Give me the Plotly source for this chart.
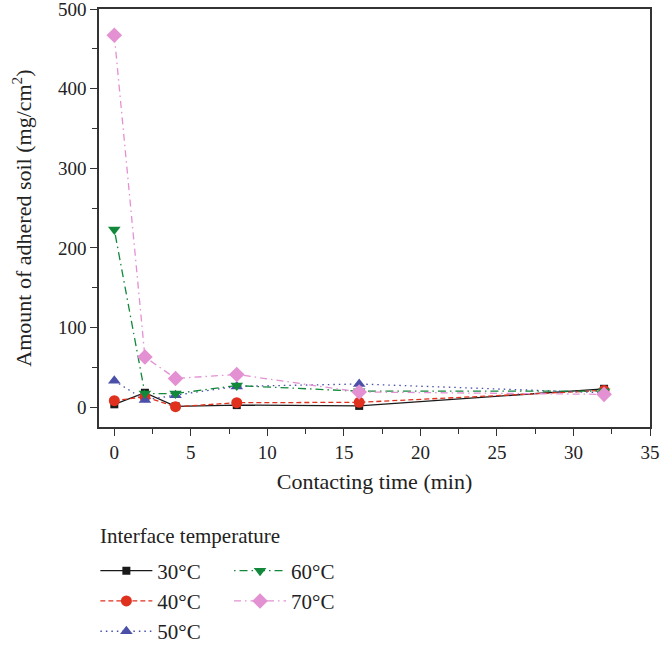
import plotly.graph_objects as go

time_min = [0, 2, 4, 8, 16, 32]
series_names = ["30°C", "40°C", "50°C", "60°C", "70°C"]
soil_30 = [3.5, 18, 1, 2.5, 1.5, 23]
soil_40 = [8, 13, 0.5, 5.5, 6, 21]
soil_50 = [33, 9, 15, 26, 29, 18]
soil_60 = [223, 17, 17, 27, 20, 20]
soil_70 = [467, 63, 36, 41, 19, 16]
legend_title = "Interface temperature"

values = [soil_30, soil_40, soil_50, soil_60, soil_70]
colors = ["#1a1a1a", "#e0301e", "#4a4fa8", "#11883a", "#e391d2"]
dashes = ["solid", "5px,3px", "1.5px,4px", "1.5px,4px,8px,4px", "7px,4px,1.5px,4px"]
symbols = ["square", "circle", "triangle-up", "triangle-down", "diamond"]
sizes = [8, 11, 11, 11, 12]
legend_ids = ["legend", "legend", "legend", "legend2", "legend2"]

FONT = "Liberation Serif"
TXT = "#222222"

fig = go.Figure()
for name, vals, c, d, s, sz, lg in zip(series_names, values, colors, dashes, symbols, sizes, legend_ids):
    fig.add_trace(go.Scatter(
        x=time_min, y=vals, name=name, mode="lines+markers",
        line=dict(color=c, width=1.3, dash=d),
        marker=dict(symbol=s, size=sz, color=c),
        legend=lg,
    ))

axis_common = dict(
    showline=True, linecolor="#333333", linewidth=1.5, mirror=True,
    ticks="outside", ticklen=7, tickwidth=1.2, tickcolor="#333333",
    showgrid=False, zeroline=False, ticklabeloverflow="allow",
    tickfont=dict(family=FONT, size=19, color=TXT),
)

fig.update_xaxes(
    range=[-1, 35], tick0=0, dtick=5,
    minor=dict(dtick=2.5, ticks="outside", ticklen=5, tickcolor="#333333"),
    title=dict(text="Contacting time (min)", font=dict(family=FONT, size=22, color=TXT), standoff=12),
    **axis_common,
)
fig.update_yaxes(
    range=[-25, 500], tick0=0, dtick=100,
    minor=dict(dtick=50, ticks="outside", ticklen=5, tickcolor="#333333"),
    title=dict(text="Amount of adhered soil (mg/cm<sup>2</sup>)", font=dict(family=FONT, size=22, color=TXT), standoff=20),
    **axis_common,
)

legend_common = dict(
    orientation="v", xanchor="left", yanchor="top",
    font=dict(family=FONT, size=21, color=TXT),
    itemwidth=52, tracegroupgap=0, bgcolor="rgba(0,0,0,0)",
)

fig.update_layout(
    width=662, height=647,
    margin=dict(l=99, r=12, t=9, b=220, autoexpand=False),
    plot_bgcolor="white", paper_bgcolor="white",
    font=dict(family=FONT, color=TXT),
    showlegend=True,
    legend=dict(x=-0.0066, y=-0.2954, **legend_common),
    legend2=dict(x=0.236, y=-0.2954, **legend_common),
    annotations=[dict(
        text=legend_title, xref="paper", yref="paper",
        x=-0.002, y=-0.2608, xanchor="left", yanchor="middle",
        showarrow=False, font=dict(family=FONT, size=21, color=TXT),
    )],
)

fig.write_html("out.html", config={"displayModeBar": False},
               post_script="document.body.style.margin='0px';")
